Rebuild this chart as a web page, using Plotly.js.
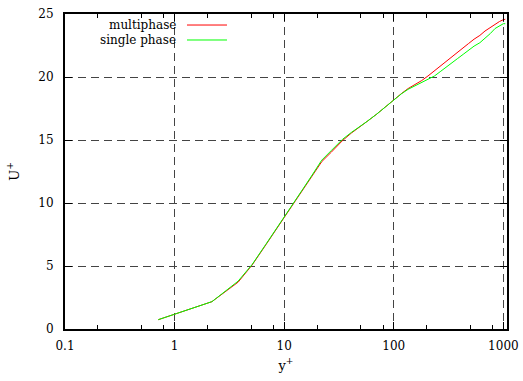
<!DOCTYPE html>
<html>
<head>
<meta charset="utf-8">
<script src="https://cdn.plot.ly/plotly-3.0.1.min.js"></script>
<style>html,body{margin:0;padding:0;background:#fff;}#plot{width:523px;height:381px;}</style>
</head>
<body>
<div id="plot"></div>
<script>
// y+ positions (shared by both series)
const yPlus = [0.71, 2.19, 3.8, 5.1, 6.8, 8.6, 10.5, 12.5, 15, 18, 22, 27, 34, 41, 48, 57, 70, 84, 100, 118, 135, 156, 180, 205, 235, 265, 300, 340, 380, 430, 480, 540, 610, 680, 760, 840, 920, 1000, 1040];
// U+ multiphase
const uMulti = [0.74, 2.17, 3.72, 5.08, 6.68, 7.98, 9.1, 10.08, 11.12, 12.15, 13.28, 14.05, 14.95, 15.55, 15.97, 16.47, 17.06, 17.65, 18.2, 18.7, 19.08, 19.38, 19.72, 20.08, 20.5, 20.9, 21.25, 21.65, 21.95, 22.35, 22.65, 23.0, 23.3, 23.65, 23.95, 24.2, 24.4, 24.55, 24.58];
// U+ single phase
const uSingle = [0.74, 2.17, 3.8, 5.12, 6.72, 8.02, 9.15, 10.12, 11.18, 12.22, 13.4, 14.18, 15.05, 15.6, 15.99, 16.47, 17.06, 17.65, 18.2, 18.68, 19.02, 19.28, 19.55, 19.8, 20.08, 20.42, 20.75, 21.1, 21.45, 21.8, 22.12, 22.45, 22.72, 23.05, 23.45, 23.85, 24.05, 24.23, 24.23];
const seriesNames = ['multiphase', 'single phase'];
const seriesColors = ['#ff0000', '#00ff00'];
const xMajorTicks = [0.1, 1, 10, 100, 1000];
const xTickLabels = ['0.1', '1', '10', '100', '1000'];
const xMinorTicks = [0.2, 0.5, 0.8, 2, 5, 8, 20, 50, 80, 200, 500, 800];
const yTicks = [0, 5, 10, 15, 20, 25];

const xRange = [-1, 3.033];
const fam = 'DejaVu Serif';
const tickFont = {family: fam, size: 12, color: '#000'};
const textFont = {family: fam, size: 12, color: '#000'};
const titleFont = {family: fam, size: 13, color: '#000'};

const traces = [
  {x: yPlus, y: uMulti, name: seriesNames[0], mode: 'lines', line: {color: seriesColors[0], width: 1}, xaxis: 'x', yaxis: 'y'},
  {x: yPlus, y: uSingle, name: seriesNames[1], mode: 'lines', line: {color: seriesColors[1], width: 1}, xaxis: 'x', yaxis: 'y'}
];

const gridCol = '#444';
const layout = {
  width: 523, height: 381,
  margin: {l: 65, r: 16, t: 14, b: 52},
  paper_bgcolor: '#fff', plot_bgcolor: '#fff',
  showlegend: false,
  font: textFont,
  xaxis: {
    type: 'log', range: xRange,
    tickvals: xMajorTicks, ticktext: xTickLabels,
    ticks: 'inside', ticklen: 7, tickwidth: 1, tickcolor: '#000',
    showline: true, linecolor: '#000', linewidth: 2, mirror: 'ticks',
    showgrid: true, gridcolor: gridCol, gridwidth: 1, griddash: '8px,5px',
    zeroline: false, ticklabelstandoff: 5,
    tickfont: tickFont,
    title: {text: 'y<sup>+</sup>', font: titleFont, standoff: 8}
  },
  xaxis2: {
    type: 'log', range: xRange, overlaying: 'x',
    tickvals: xMinorTicks, showticklabels: false,
    ticks: 'inside', ticklen: 4, tickwidth: 1, tickcolor: '#000',
    showline: false, showgrid: false, zeroline: false, mirror: 'ticks'
  },
  yaxis: {
    range: [0, 25], tickvals: yTicks,
    ticks: 'inside', ticklen: 7, tickwidth: 1, tickcolor: '#000',
    showline: true, linecolor: '#000', linewidth: 2, mirror: 'ticks',
    showgrid: true, gridcolor: gridCol, gridwidth: 1, griddash: '8px,5px',
    zeroline: false, ticklabelstandoff: 7,
    tickfont: tickFont,
    title: {text: 'U<sup>+</sup>', font: titleFont, standoff: 16}
  },
  annotations: seriesNames.map((n, i) => ({
    text: n, xref: 'paper', yref: 'paper', x: 0.2557, y: 0.965 - i * 0.0475,
    xanchor: 'right', yanchor: 'middle', showarrow: false,
    font: textFont
  })),
  shapes: seriesNames.map((n, i) => ({
    type: 'line', xref: 'paper', yref: 'paper',
    x0: 0.276, x1: 0.3665, y0: 0.965 - i * 0.0475, y1: 0.965 - i * 0.0475,
    line: {color: seriesColors[i], width: 1}
  }))
};

// invisible trace on xaxis2 so the minor-tick overlay axis renders
traces.push({x: [1], y: [0], xaxis: 'x2', yaxis: 'y', mode: 'markers', marker: {opacity: 0}, hoverinfo: 'skip', showlegend: false});

Plotly.newPlot('plot', traces, layout, {staticPlot: true, displayModeBar: false});
</script>
</body>
</html>
